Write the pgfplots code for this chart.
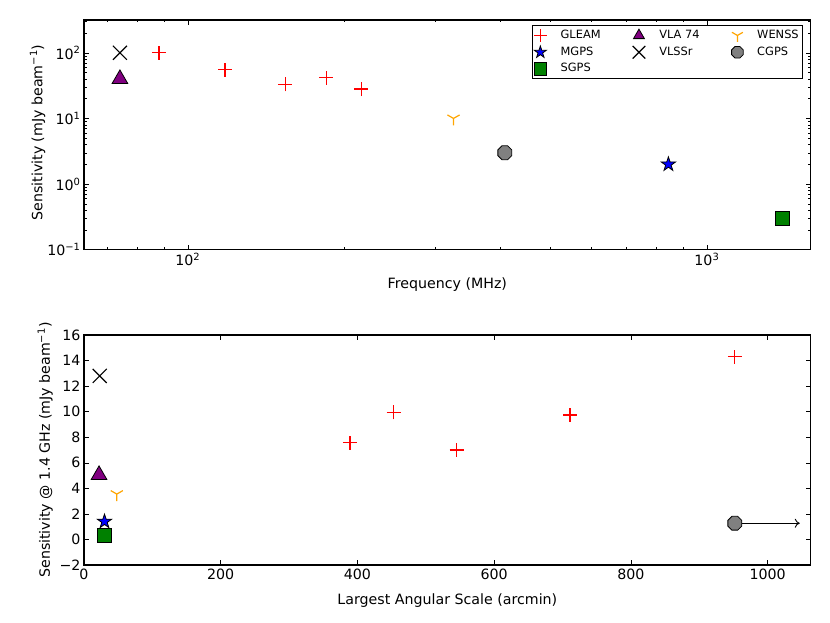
\documentclass[border=0pt]{standalone}
\usepackage{fontspec}
\setmainfont{DejaVu Sans}
\usepackage{pgfplots}
\pgfplotsset{compat=1.18}
\usetikzlibrary{arrows.meta}

\definecolor{mplpurple}{rgb}{0.5,0,0.5}
\definecolor{mplgreen}{rgb}{0,0.5,0}
\definecolor{mplorange}{rgb}{1,0.647,0}
\definecolor{mplgray}{rgb}{0.5,0.5,0.5}

\pgfdeclareplotmark{octagon*}{%
 \pgfpathmoveto{\pgfpointpolar{22.5}{\pgfplotmarksize}}%
 \pgfpathlineto{\pgfpointpolar{67.5}{\pgfplotmarksize}}%
 \pgfpathlineto{\pgfpointpolar{112.5}{\pgfplotmarksize}}%
 \pgfpathlineto{\pgfpointpolar{157.5}{\pgfplotmarksize}}%
 \pgfpathlineto{\pgfpointpolar{202.5}{\pgfplotmarksize}}%
 \pgfpathlineto{\pgfpointpolar{247.5}{\pgfplotmarksize}}%
 \pgfpathlineto{\pgfpointpolar{292.5}{\pgfplotmarksize}}%
 \pgfpathlineto{\pgfpointpolar{337.5}{\pgfplotmarksize}}%
 \pgfpathclose
 \pgfusepathqfillstroke}

\pgfdeclareplotmark{tridown}{%
 \pgfpathmoveto{\pgfpointorigin}\pgfpathlineto{\pgfpointpolar{-90}{\pgfplotmarksize}}%
 \pgfpathmoveto{\pgfpointorigin}\pgfpathlineto{\pgfpointpolar{30}{\pgfplotmarksize}}%
 \pgfpathmoveto{\pgfpointorigin}\pgfpathlineto{\pgfpointpolar{150}{\pgfplotmarksize}}%
 \pgfusepathqstroke}

\pgfdeclareplotmark{plusmark}{%
 \pgfpathmoveto{\pgfqpoint{-\pgfplotmarksize}{0pt}}\pgfpathlineto{\pgfqpoint{\pgfplotmarksize}{0pt}}%
 \pgfpathmoveto{\pgfqpoint{0pt}{-\pgfplotmarksize}}\pgfpathlineto{\pgfqpoint{0pt}{\pgfplotmarksize}}%
 \pgfusepathqstroke}

\pgfdeclareplotmark{crossmark}{%
 \pgfpathmoveto{\pgfqpoint{-\pgfplotmarksize}{-\pgfplotmarksize}}\pgfpathlineto{\pgfqpoint{\pgfplotmarksize}{\pgfplotmarksize}}%
 \pgfpathmoveto{\pgfqpoint{-\pgfplotmarksize}{\pgfplotmarksize}}\pgfpathlineto{\pgfqpoint{\pgfplotmarksize}{-\pgfplotmarksize}}%
 \pgfusepathqstroke}

\pgfdeclareplotmark{fivestar*}{%
 \pgfpathmoveto{\pgfpointpolar{90}{\pgfplotmarksize}}%
 \pgfpathlineto{\pgfpointpolar{126}{0.382\pgfplotmarksize}}%
 \pgfpathlineto{\pgfpointpolar{162}{\pgfplotmarksize}}%
 \pgfpathlineto{\pgfpointpolar{198}{0.382\pgfplotmarksize}}%
 \pgfpathlineto{\pgfpointpolar{234}{\pgfplotmarksize}}%
 \pgfpathlineto{\pgfpointpolar{270}{0.382\pgfplotmarksize}}%
 \pgfpathlineto{\pgfpointpolar{306}{\pgfplotmarksize}}%
 \pgfpathlineto{\pgfpointpolar{342}{0.382\pgfplotmarksize}}%
 \pgfpathlineto{\pgfpointpolar{18}{\pgfplotmarksize}}%
 \pgfpathlineto{\pgfpointpolar{54}{0.382\pgfplotmarksize}}%
 \pgfpathclose
 \pgfusepathqfillstroke}

\pgfplotsset{
 gleam/.style={only marks, color=red, mark=plusmark, mark size=7pt, mark options={draw=red, line width=1.3pt}},
 vla/.style={only marks, color=mplpurple, mark=triangle*, mark size=9pt, mark options={draw=black, fill=mplpurple, line width=0.8pt}},
 wenss/.style={only marks, color=mplorange, mark=tridown, mark size=7pt, mark options={draw=mplorange, line width=1.2pt}},
 mgps/.style={only marks, color=blue, mark=fivestar*, mark size=7.5pt, mark options={draw=black, fill=blue, line width=0.8pt}},
 vlssr/.style={only marks, color=black, mark=crossmark, mark size=7pt, mark options={draw=black, line width=1.2pt}},
 cgps/.style={only marks, color=mplgray, mark=octagon*, mark size=7.5pt, mark options={draw=black, fill=mplgray, line width=0.8pt}},
 sgps/.style={only marks, color=mplgreen, mark=square*, mark size=7pt, mark options={draw=black, fill=mplgreen, line width=0.8pt}},
 common/.style={
  scale only axis, width=726.7pt,
  tick align=inside, major tick length=5pt, minor tick length=2.5pt,
  every tick/.style={black, line width=0.5pt},
  axis line style={line width=1.2pt},
  tick label style={font=\fontsize{14.2}{17}\selectfont},
  label style={font=\fontsize{14.2}{17}\selectfont},
 },
}

\begin{document}
\begin{tikzpicture}
\useasboundingbox (0pt,0pt) rectangle (830pt,623pt);

\begin{axis}[common,
 at={(84pt,373.3pt)}, anchor=south west, height=229.7pt,
 xmode=log, ymode=log,
 xmin=63.1, xmax=1585, ymin=0.1, ymax=316.2,
 xtick={100,1000}, xticklabels={10\textsuperscript{2},10\textsuperscript{3}},
 minor xtick={70,80,90,200,300,400,500,600,700,800,900},
 ytick={0.1,1,10,100},
 yticklabels={10\textsuperscript{−1},10\textsuperscript{0},10\textsuperscript{1},10\textsuperscript{2}},
 minor ytick={0.2,0.3,0.4,0.5,0.6,0.7,0.8,0.9,2,3,4,5,6,7,8,9,20,30,40,50,60,70,80,90,200,300},
 xlabel={Frequency (MHz)},
 ylabel={Sensitivity (mJy beam\textsuperscript{−1})},
 xlabel style={at={(axis description cs:0.5,-0.171)}, anchor=base},
 ylabel style={at={(axis description cs:-0.0574,0.51)}, anchor=base},
 legend columns=3,
 legend cell align=left,
 legend image post style={mark size=6.3pt},
 legend style={at={(axis description cs:0.989,0.978)}, anchor=north east,
   draw=black, line width=1pt, inner sep=1.5pt,
   font=\fontsize{11.4}{13}\selectfont,
   nodes={text height=8.3pt, text depth=2.5pt, inner ysep=3pt},
   /tikz/every odd column/.append style={column sep=12pt},
   /tikz/every even column/.append style={column sep=30pt}},
]
\addplot[gleam] coordinates {(88,100) (118,55) (154,33) (185,42) (216,28)};
\addlegendentry{GLEAM}
\addplot[vla] coordinates {(74,40)};
\addlegendentry{VLA 74}
\addplot[wenss] coordinates {(325,10)};
\addlegendentry{WENSS}
\addplot[mgps] coordinates {(843,2)};
\addlegendentry{MGPS}
\addplot[vlssr] coordinates {(74,100)};
\addlegendentry{VLSSr}
\addplot[cgps] coordinates {(408,3)};
\addlegendentry{CGPS}
\addplot[sgps] coordinates {(1400,0.3)};
\addlegendentry{SGPS}
\end{axis}

\begin{axis}[common,
 at={(84pt,58pt)}, anchor=south west, height=230pt,
 xmin=0, xmax=1063, ymin=-2, ymax=16,
 xtick={0,200,400,600,800,1000}, xticklabels={0,200,400,600,800,1000},
 ytick={-2,0,2,4,6,8,10,12,14,16},
 yticklabels={−2,0,2,4,6,8,10,12,14,16},
 xlabel={Largest Angular Scale (arcmin)},
 ylabel={Sensitivity @ 1.4 GHz (mJy beam\textsuperscript{−1})},
 xlabel style={at={(axis description cs:0.5,-0.1696)}, anchor=base},
 ylabel style={at={(axis description cs:-0.0468,0.5)}, anchor=base},
]
\addplot[black, line width=0.9pt, -{To[length=5pt,width=9pt]}] coordinates {(952,1.27) (1047,1.27)};
\addplot[gleam] coordinates {(389,7.56) (453,9.95) (545,7.0) (711,9.75) (952,14.3)};
\addplot[vla] coordinates {(22,5.05)};
\addplot[wenss] coordinates {(48,3.55)};
\addplot[sgps] coordinates {(30,0.3)};
\addplot[mgps] coordinates {(30,1.4)};
\addplot[vlssr] coordinates {(23,12.8)};
\addplot[cgps] coordinates {(952,1.27)};
\end{axis}
\end{tikzpicture}
\end{document}
